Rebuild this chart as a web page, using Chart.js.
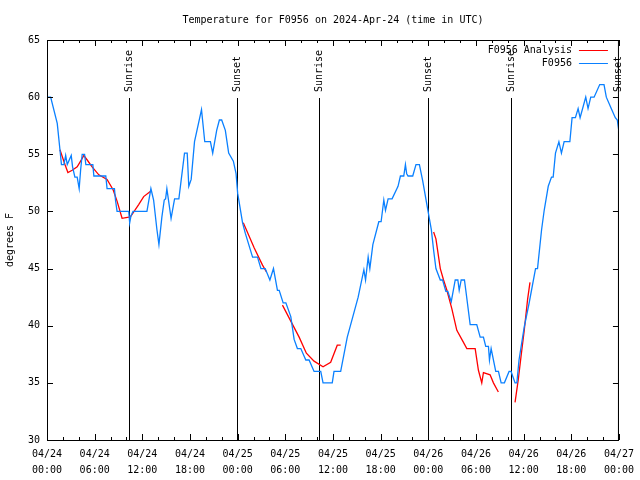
<!DOCTYPE html>
<html>
<head>
<meta charset="utf-8">
<script src="https://cdn.jsdelivr.net/npm/chart.js@4.4.1/dist/chart.umd.min.js"></script>
<style>
  body { margin: 0; background: #fff; }
  canvas { display: block; }
</style>
</head>
<body>
<canvas id="tempChart" width="640" height="480"></canvas>
<script>
// hours since 04/24 00:00 UTC
const obsHours = [0, 0.46, 1.29, 1.63, 1.82, 2.13, 2.35, 2.55, 3.05, 3.22, 3.51, 3.80, 4.05, 4.23, 4.43, 4.73, 4.89, 5.77, 5.90, 7.40,
  7.56, 8.49, 8.62, 8.82, 10.29, 10.41, 10.57, 10.83, 12.58, 13.08, 13.42, 13.84, 14.09, 14.46, 14.76, 14.93, 15.09, 15.62, 16.06, 16.60,
  17.31, 17.65, 17.85, 18.15, 18.57, 19.45, 19.86, 20.57, 20.86, 21.36, 21.70, 21.99, 22.45, 22.87, 23.46, 23.80, 24.00, 24.62, 24.96, 25.88,
  26.50, 26.93, 27.47, 28.06, 28.51, 29.01, 29.23, 29.73, 30.07, 30.69, 31.11, 31.52, 31.95, 32.58, 32.99, 33.62, 34.46, 34.75, 35.91, 36.13,
  36.97, 37.80, 39.17, 39.89, 40.10, 40.43, 40.64, 41.02, 41.77, 42.06, 42.40, 42.61, 42.94, 43.44, 44.19, 44.49, 44.91, 45.12, 45.28, 45.45,
  46.04, 46.45, 46.88, 47.29, 47.95, 48.38, 48.67, 48.96, 49.51, 49.80, 50.21, 50.46, 50.89, 51.39, 51.72, 51.89, 52.14, 52.55, 52.72, 53.27,
  54.10, 54.53, 54.94, 55.23, 55.57, 55.70, 55.91, 56.49, 56.83, 57.17, 57.58, 58.17, 58.42, 58.92, 59.15, 59.42, 60.08, 60.67, 61.50, 61.75,
  62.26, 62.59, 63.10, 63.51, 63.72, 64.01, 64.44, 64.76, 65.10, 65.82, 66.10, 66.52, 66.86, 67.11, 67.82, 68.11, 68.45, 68.87, 69.58, 70.12,
  70.41, 71.03, 71.54, 71.79, 72.00];
const obsTemps = [60.0, 60.0, 57.7, 55.4, 54.1, 54.1, 54.9, 54.1, 54.9, 53.9, 53.0, 53.0, 52.0, 53.6, 55.0, 55.0, 54.1, 54.1, 53.1, 53.1,
  52.0, 52.0, 51.0, 50.0, 50.0, 49.0, 49.6, 50.0, 50.0, 52.0, 51.0, 48.4, 47.1, 49.5, 51.0, 51.1, 52.0, 49.4, 51.1, 51.1,
  55.1, 55.1, 52.2, 52.8, 56.1, 58.9, 56.1, 56.1, 55.1, 57.1, 58.0, 58.0, 57.1, 55.1, 54.4, 53.3, 51.6, 49.0, 48.1, 46.0,
  46.0, 45.0, 45.0, 44.0, 45.0, 43.1, 43.1, 42.0, 42.0, 40.8, 38.8, 38.0, 38.0, 37.0, 37.0, 36.0, 36.0, 35.0, 35.0, 36.0,
  36.0, 39.0, 42.5, 44.9, 44.0, 46.0, 45.0, 47.1, 49.1, 49.1, 51.0, 50.1, 51.1, 51.1, 52.2, 53.1, 53.1, 54.1, 53.3, 53.1,
  53.1, 54.1, 54.1, 52.7, 50.1, 48.4, 46.6, 45.0, 44.0, 44.0, 43.0, 43.0, 42.1, 44.0, 44.0, 43.1, 44.0, 44.0, 43.1, 40.1,
  40.1, 39.0, 39.0, 38.2, 38.2, 37.0, 38.0, 36.0, 36.0, 35.0, 35.0, 36.0, 36.0, 35.0, 35.0, 37.0, 39.9, 41.9, 45.0, 45.0,
  48.4, 50.1, 52.2, 53.0, 53.0, 55.1, 56.1, 55.1, 56.1, 56.1, 58.2, 58.2, 59.0, 58.2, 60.0, 59.0, 60.0, 60.0, 61.1, 61.1,
  60.0, 59.0, 58.2, 58.0, 57.0];

// analysis series, null = gap
const anaHours = [1.63, 2.26, 2.63, 3.17, 3.80, 4.23, 4.64, 5.06, 5.68, 6.52, 7.56, 8.32, 8.82, 9.45, 10.29, 10.57, 11.54, 12.17, 12.92, 13.11,
  18.0,
  24.71, 26.09, 27.13, 27.63,
  28.5,
  29.64, 30.69, 31.74, 32.65, 33.62, 34.75, 35.71, 36.54, 36.97,
  42.0,
  48.67, 48.96, 49.51, 49.92, 50.34, 50.96, 51.59, 52.22, 52.85, 53.90, 54.31, 54.73, 54.94, 55.78, 56.20, 56.82,
  57.8,
  58.92, 59.33, 59.67, 60.08, 60.50, 60.80];
const anaTemps = [55.4, 54.1, 53.4, 53.6, 53.9, 54.4, 54.9, 54.5, 53.9, 53.2, 52.8, 51.9, 50.9, 49.4, 49.5, 49.6, 50.6, 51.3, 51.7, 51.8,
  null,
  49.0, 46.8, 45.3, 44.7,
  null,
  41.8, 40.4, 39.0, 37.6, 36.9, 36.4, 36.8, 38.3, 38.3,
  null,
  48.2, 47.6, 45.0, 44.0, 43.1, 41.5, 39.6, 38.8, 38.0, 38.0, 36.1, 35.0, 35.9, 35.7, 35.0, 34.2,
  null,
  33.3, 35.3, 37.3, 39.6, 42.3, 43.8];

const sunHours = [10.29, 23.87, 34.24, 47.95, 58.37, 71.87];
const sunLabels = ['Sunrise', 'Sunset', 'Sunrise', 'Sunset', 'Sunrise', 'Sunset'];

const xDates = ['04/24', '04/24', '04/24', '04/24', '04/25', '04/25', '04/25', '04/25', '04/26', '04/26', '04/26', '04/26', '04/27'];
const xTimes = ['00:00', '06:00', '12:00', '18:00', '00:00', '06:00', '12:00', '18:00', '00:00', '06:00', '12:00', '18:00', '00:00'];

const FONT = '"DejaVu Sans Mono", "Liberation Mono", monospace';

const toPoints = (xs, ys) => xs.map((h, i) => ({ x: h, y: ys[i] }));

// gnuplot-like frame, inward ticks, sun markers, legend, title
const gnuplotBits = {
  id: 'gnuplotBits',
  beforeDraw(chart) {
    const c = chart.ctx;
    c.save();
    c.fillStyle = '#fff';
    c.fillRect(0, 0, chart.width, chart.height);
    c.restore();
  },
  beforeDatasetsDraw(chart) {
    const c = chart.ctx;
    const { top, bottom } = chart.chartArea;
    const xs = chart.scales.x;
    c.save();
    c.strokeStyle = '#000';
    c.lineWidth = 1;
    sunHours.forEach(h => {
      const px = Math.round(xs.getPixelForValue(h)) + 0.5;
      c.beginPath();
      c.moveTo(px, top + 58);
      c.lineTo(px, bottom);
      c.stroke();
    });
    c.restore();
  },
  afterDraw(chart) {
    const c = chart.ctx;
    const { left, right, top, bottom } = chart.chartArea;
    const xs = chart.scales.x, ys = chart.scales.y;
    c.save();
    c.strokeStyle = '#000';
    c.lineWidth = 1;
    c.strokeRect(left + 0.5, top + 0.5, right - left - 1, bottom - top);

    c.beginPath();
    for (let h = 0; h <= 72; h += 2) {
      const px = Math.round(xs.getPixelForValue(h)) + 0.5;
      const len = h % 6 === 0 ? 6 : 3;
      c.moveTo(px, bottom); c.lineTo(px, bottom - len);
      c.moveTo(px, top); c.lineTo(px, top + len);
    }
    for (let v = 30; v <= 65; v += 5) {
      const py = Math.round(ys.getPixelForValue(v)) + 0.5;
      c.moveTo(left, py); c.lineTo(left + 6, py);
      c.moveTo(right, py); c.lineTo(right - 6, py);
    }
    c.stroke();

    c.fillStyle = '#000';
    c.font = '10px ' + FONT;
    sunHours.forEach((h, i) => {
      const px = Math.round(xs.getPixelForValue(h)) + 0.5;
      c.save();
      c.translate(px, top + 52);
      c.rotate(-Math.PI / 2);
      c.textAlign = 'left';
      c.textBaseline = 'middle';
      c.fillText(sunLabels[i], 0, 0);
      c.restore();
    });

    // legend
    const sets = chart.data.datasets;
    c.textAlign = 'right';
    c.textBaseline = 'middle';
    sets.forEach((ds, i) => {
      const y = top + 10 + i * 13;
      c.fillStyle = '#000';
      c.fillText(ds.label, right - 47, y);
      c.strokeStyle = ds.borderColor;
      c.beginPath();
      c.moveTo(right - 40, y + 0.5);
      c.lineTo(right - 11, y + 0.5);
      c.stroke();
    });

    // title
    c.fillStyle = '#000';
    c.textAlign = 'center';
    c.fillText('Temperature for F0956 on 2024-Apr-24 (time in UTC)', (left + right) / 2, 20);
    c.restore();
  }
};

new Chart(document.getElementById('tempChart'), {
  type: 'line',
  data: {
    datasets: [
      {
        label: 'F0956 Analysis',
        data: toPoints(anaHours, anaTemps),
        borderColor: '#ff0000',
        borderWidth: 1.3,
        pointRadius: 0,
        spanGaps: false,
        order: 2
      },
      {
        label: 'F0956',
        data: toPoints(obsHours, obsTemps),
        borderColor: '#0a80ff',
        borderWidth: 1.3,
        pointRadius: 0,
        order: 1
      }
    ]
  },
  options: {
    responsive: false,
    animation: false,
    layout: { padding: { top: 40, right: 19, left: 0, bottom: 0 } },
    plugins: {
      legend: { display: false },
      tooltip: { enabled: false }
    },
    scales: {
      x: {
        type: 'linear',
        min: 0,
        max: 72,
        grid: { display: false, drawTicks: false },
        border: { display: false },
        ticks: {
          stepSize: 6,
          autoSkip: false,
          maxRotation: 0,
          padding: 6,
          color: '#000',
          font: { family: FONT, size: 10, lineHeight: 1.6 },
          callback: (v) => {
            const i = Math.round(v / 6);
            return [xDates[i], xTimes[i]];
          }
        },
        afterFit: (scale) => { scale.height = 40; }
      },
      y: {
        min: 30,
        max: 65,
        grid: { display: false, drawTicks: false },
        border: { display: false },
        ticks: {
          stepSize: 5,
          padding: 7,
          color: '#000',
          font: { family: FONT, size: 10 }
        },
        title: {
          display: true,
          text: 'degrees F',
          color: '#000',
          padding: { top: 4, bottom: 0 },
          font: { family: FONT, size: 10 }
        },
        afterFit: (scale) => { scale.width = 47; }
      }
    }
  },
  plugins: [gnuplotBits]
});
</script>
</body>
</html>
